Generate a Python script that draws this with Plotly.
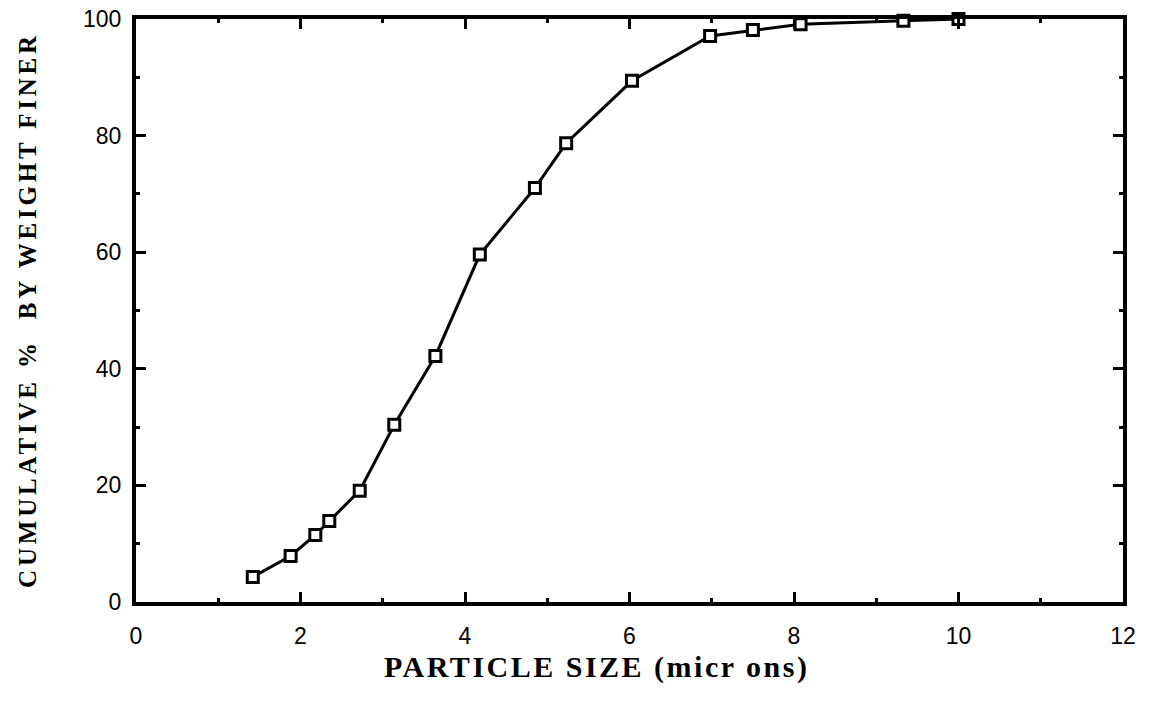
import plotly.graph_objects as go

particle_size = [1.42, 1.88, 2.18, 2.35, 2.72, 3.14, 3.64, 4.18, 4.85, 5.23, 6.03, 6.98, 7.50, 8.08, 9.33, 10.0]
cum_finer = [4.3, 7.9, 11.5, 13.9, 19.1, 30.4, 42.2, 59.6, 71.0, 78.7, 89.4, 97.1, 98.1, 99.1, 99.7, 100.0]

x_ticks = [0, 2, 4, 6, 8, 10, 12]
y_ticks = [0, 20, 40, 60, 80, 100]

x_title = "PARTICLE SIZE (micr ons)"
y_title = "CUMULATIVE %  BY WEIGHT FINER"

fig = go.Figure()
fig.add_trace(go.Scatter(
    x=particle_size, y=cum_finer, mode="lines+markers",
    line=dict(color="black", width=3),
    marker=dict(symbol="square", size=11, color="white",
                line=dict(color="black", width=3)),
    showlegend=False, cliponaxis=False,
))

axis_common = dict(
    showline=True, linecolor="black", linewidth=4, mirror="allticks",
    ticks="inside", ticklen=10, tickwidth=3, tickcolor="black",
    showgrid=False, zeroline=False, automargin=False,
    ticklabeloverflow="allow",
    tickfont=dict(family="Liberation Sans, Arial, sans-serif", size=23, color="black"),
)

title_font = "Liberation Serif, Times New Roman, serif"

fig.update_layout(
    width=1152, height=701,
    margin=dict(l=136, r=29, t=19, b=99),
    plot_bgcolor="white", paper_bgcolor="white",
    xaxis=dict(
        range=[0, 12], tickvals=x_ticks, ticktext=[str(v) for v in x_ticks],
        minor=dict(dtick=1, ticks="inside", ticklen=4, tickwidth=3, tickcolor="black"),
        ticklabelstandoff=10,
        **axis_common,
    ),
    yaxis=dict(
        range=[0, 100], tickvals=y_ticks, ticktext=[str(v) for v in y_ticks],
        minor=dict(dtick=10, ticks="inside", ticklen=4, tickwidth=3, tickcolor="black"),
        ticklabelstandoff=6,
        **axis_common,
    ),
    annotations=[
        dict(text=f"<span style='letter-spacing:2.5px'><b>{x_title}</b></span>",
             xref="paper", yref="paper", x=0.4666, y=-0.1115,
             xanchor="center", yanchor="middle", showarrow=False,
             font=dict(family=title_font, size=30, color="black")),
        dict(text=f"<span style='letter-spacing:3.8px'><b>{y_title}</b></span>",
             xref="paper", yref="paper", x=-0.1094, y=0.501,
             xanchor="center", yanchor="middle", showarrow=False, textangle=-90,
             font=dict(family=title_font, size=25, color="black")),
    ],
)

fig.write_html("out.html",
               config={"displayModeBar": False},
               post_script="document.body.style.margin='0';document.body.style.overflow='hidden';")
